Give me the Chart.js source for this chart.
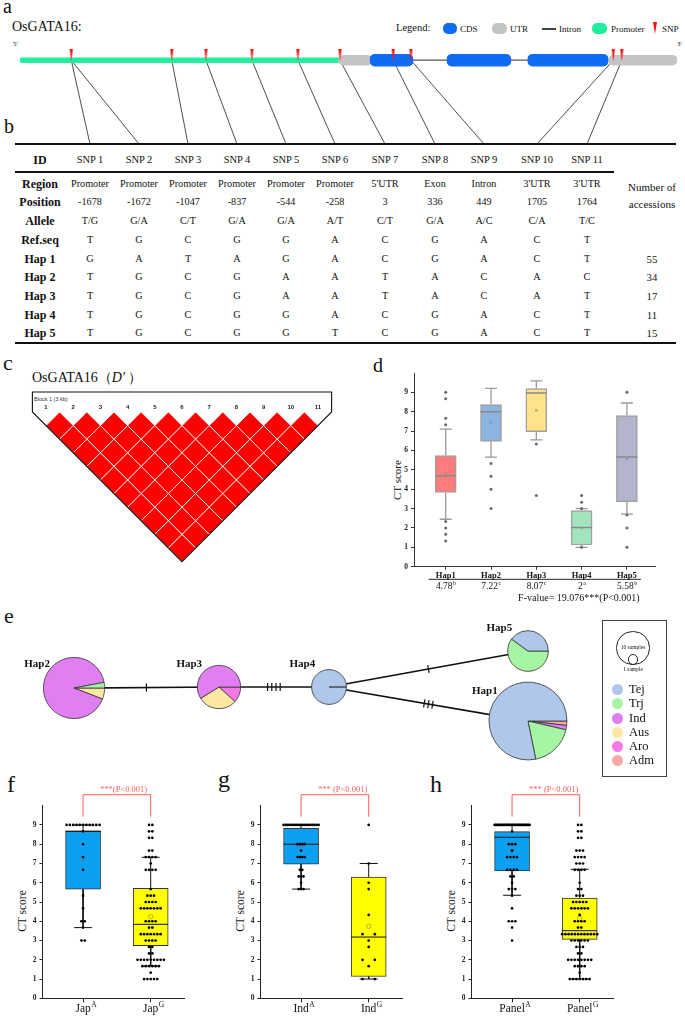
<!DOCTYPE html>
<html>
<head>
<meta charset="utf-8">
<script src="https://cdn.jsdelivr.net/npm/chart.js@4.4.1/dist/chart.umd.min.js"></script>
<style>
html,body{margin:0;padding:0;background:#fff;}
#page{position:relative;width:685px;height:1016px;overflow:hidden;background:#fff;font-family:'Liberation Serif','Times New Roman',serif;color:#111;}
#page div{position:absolute;white-space:nowrap;line-height:1;}
#page canvas{position:absolute;}
.c{transform:translate(-50%,-50%);}
</style>
</head>
<body>
<div id="page"></div>
<script>
// ================= DATA =================
// panel a : gene model (schematic position along the drawn gene, 0-100)
const promoterSpans = [[0, 48.7]];
const utrSpans = [[48.5, 53.6], [89.6, 100]];
const cdsSpans = [[53.3, 59.8], [65.0, 74.7], [77.3, 89.5]];
const intronSpan = [59.8, 77.3];
const snpMarkPos = [7.8, 7.8, 23.1, 28.3, 35.3, 42.3, 48.7, 56.8, 59.5, 90.3, 91.6];

// panel b : SNP table
const snpIds = ['SNP 1','SNP 2','SNP 3','SNP 4','SNP 5','SNP 6','SNP 7','SNP 8','SNP 9','SNP 10','SNP 11'];
const snpRegion = ['Promoter','Promoter','Promoter','Promoter','Promoter','Promoter',"5'UTR",'Exon','Intron',"3'UTR","3'UTR"];
const snpPosition = ['-1678','-1672','-1047','-837','-544','-258','3','336','449','1705','1764'];
const snpAllele = ['T/G','G/A','C/T','G/A','G/A','A/T','C/T','G/A','A/C','C/A','T/C'];
const refSeq = ['T','G','C','G','G','A','C','G','A','C','T'];
const hapRowNames = ['Hap 1','Hap 2','Hap 3','Hap 4','Hap 5'];
const hapAlleles = [
  ['G','A','T','A','G','A','C','G','A','C','T'],
  ['T','G','C','G','A','A','T','A','C','A','C'],
  ['T','G','C','G','A','A','T','A','C','A','T'],
  ['T','G','C','G','G','A','C','G','A','C','T'],
  ['T','G','C','G','G','T','C','G','A','C','T']
];
const hapAccessions = [55, 34, 17, 11, 15];

// panel c : pairwise D' (rows = SNP distance 1..10)
const ldSnpNumbers = [1,2,3,4,5,6,7,8,9,10,11];
const ldDprime = [
  [1,1,1,1,1,1,1,1,1,1],
  [1,1,1,1,1,1,1,1,1],
  [1,1,1,1,1,1,1,1],
  [1,1,1,1,1,1,1],
  [1,1,1,1,1,1],
  [1,1,1,1,1],
  [1,1,1,1],
  [1,1,1],
  [1,1],
  [1]
];

// panel d : CT score by haplotype
const hapLabels = ['Hap1','Hap2','Hap3','Hap4','Hap5'];
const hapQ1 = [3.83, 6.47, 6.97, 1.12, 3.36];
const hapMedian = [4.69, 8.0, 8.97, 2.02, 5.66];
const hapQ3 = [5.74, 8.37, 9.19, 2.9, 7.8];
const hapWhiskerLow = [2.45, 5.66, 6.55, 1.0, 2.71];
const hapWhiskerHigh = [7.1, 9.21, 9.59, 3.0, 8.45];
const hapMean = [4.78, 7.45, 8.07, 2.0, 5.58];
const hapOutliers = [[9, 8.67, 7.67, 7.33, 2.33, 2, 1.67, 1.33], [5.33, 4.67, 4, 3], [6.33, 3.67], [3.67, 3.33, 3, 1], [9, 2.67, 2, 1]];
const hapMeanLabels = ['4.78','7.22','8.07','2','5.58'];
const hapGroupLetters = ['b','c','c','a','b'];
const fValueText = 'F-value= 19.076***(P<0.001)';

// panel e : haplotype network
const hapNodes = ['Hap1','Hap2','Hap3','Hap4','Hap5'];
const nodeX = [88, 12.3, 36.5, 54.8, 88];
const nodeY = [7.8, 13.3, 13.5, 13.5, 19.5];
const groupNames = ['Tej','Trj','Ind','Aus','Aro','Adm'];
const hapGroupCounts = [[43,10,1,0,0,1],[0,1,31,2,0,0],[0,0,10,5,2,0],[11,0,0,0,0,0],[6,9,0,0,0,0]];
const edgeFrom = ['Hap2','Hap3','Hap4','Hap4'];
const edgeTo = ['Hap3','Hap4','Hap5','Hap1'];
const edgeMutations = [1, 4, 1, 3];

// panels f, g, h : CT score by allele
const yTickVals = [0,1,2,3,4,5,6,7,8,9];
const fLabels = ['Jap','Jap'], fSups = ['A','G'];
const fQ1 = [5.67, 2.73], fMedian = [8.67, 3.84], fQ3 = [8.69, 5.71], fLow = [3.67, 1.68], fHigh = [9, 7.32], fMean = [7.22, 4.24];
const japAValues = [9, 8.67, 8, 7.33, 6.67, 5.33, 4.67, 4, 3.67, 3];
const japACounts = [11, 1, 1, 1, 1, 1, 1, 2, 1, 2];
const japGValues = [9, 8.67, 8.33, 7.67, 7.33, 7, 6.67, 5.67, 5.33, 5, 4.67, 4, 3.67, 3.33, 3, 2.67, 2.33, 2, 1.67, 1.33, 1];
const japGCounts = [2, 2, 2, 2, 4, 1, 4, 1, 3, 4, 7, 4, 2, 7, 4, 2, 2, 9, 6, 1, 5];

const gLabels = ['Ind','Ind'], gSups = ['A','G'];
const gQ1 = [6.97, 1.13], gMedian = [8.0, 3.18], gQ3 = [8.83, 6.3], gLow = [5.67, 1.0], gHigh = [9, 7.0], gMean = [7.93, 3.74];
const indAValues = [9, 8, 7.67, 7.33, 6.67, 6.33, 6, 5.67];
const indACounts = [18, 4, 1, 4, 2, 3, 1, 3];
const indGValues = [9, 7, 6, 5.67, 4.33, 3.33, 3, 2.67, 2, 1.67, 1];
const indGCounts = [1, 1, 1, 1, 1, 2, 1, 1, 2, 1, 2];

const hLabels = ['Panel','Panel'], hSups = ['A','G'];
const hQ1 = [6.61, 3.06], hMedian = [8.36, 3.51], hQ3 = [8.65, 5.21], hLow = [5.35, 1.0], hHigh = [9, 6.7], hMean = [7.7, 4.15];
const panelAValues = [9, 8.67, 8, 7.67, 7.33, 6.67, 6.33, 6, 5.67, 5.33, 4.67, 4, 3.67, 3];
const panelACounts = [28, 1, 3, 1, 4, 4, 2, 1, 3, 1, 1, 3, 1, 1];
const panelGValues = [9, 8.67, 8.33, 7.67, 7.33, 7, 6.67, 6, 5.67, 5.33, 5, 4.67, 4.33, 4, 3.67, 3.33, 3, 2.67, 2.33, 2, 1.67, 1.33, 1];
const panelGCounts = [2, 2, 2, 3, 4, 3, 4, 1, 2, 3, 5, 6, 1, 4, 2, 12, 6, 3, 2, 8, 4, 1, 7];

// ================= STYLE / HELPERS =================
const SERIF = "'Liberation Serif','Times New Roman',serif";
Chart.defaults.font.family = SERIF;
Chart.defaults.color = '#222';
Chart.defaults.animation = false;
Chart.defaults.responsive = false;
Chart.defaults.plugins.legend.display = false;
Chart.defaults.plugins.tooltip.enabled = false;
const groupColors = ['#AEC7EA','#A5F5A5','#E07EF2','#FCE6A2','#F57AE6','#F8AAA6'];
const hapBoxColors = ['#FF7C7C','#8DB3E1','#FFE38A','#A2E4BE','#B3B5CF'];

const page = document.getElementById('page');
function el(html, x, y, css, center){
  const d = document.createElement('div');
  d.innerHTML = html; d.style.left = x + 'px'; d.style.top = y + 'px';
  if (center) d.className = 'c';
  if (css) d.style.cssText += ';' + css;
  page.appendChild(d); return d;
}
function letter(ch, x, base, size){ el(ch, x, base - 0.8375 * size, 'font-size:' + size + 'px'); }
function rule(x1, x2, y, w, color){ el('', x1, y - w / 2, 'width:' + (x2 - x1) + 'px;height:' + w + 'px;background:' + (color || '#111')); }
function canvasAt(x, y, w, h){
  const c = document.createElement('canvas');
  c.width = w; c.height = h;
  c.style.left = x + 'px'; c.style.top = y + 'px'; c.style.width = w + 'px'; c.style.height = h + 'px';
  page.appendChild(c); return c;
}
function drawSup(ctx, base, sup, cx, baseline, fs, ss, centerBase){
  ctx.font = fs + 'px ' + SERIF; const wb = ctx.measureText(base).width;
  ctx.font = ss + 'px ' + SERIF; const ws = ctx.measureText(sup).width;
  const x0 = centerBase ? cx - wb / 2 : cx - (wb + ws) / 2;
  ctx.textAlign = 'left';
  ctx.font = fs + 'px ' + SERIF; ctx.fillText(base, x0, baseline);
  ctx.font = ss + 'px ' + SERIF; ctx.fillText(sup, x0 + wb + 0.5, baseline - fs * 0.42);
}
function pieRadius(n){ return 5.25 * Math.sqrt(n); }

// ================= PANEL LETTERS =================
letter('a', 3, 13, 20);
letter('b', 4, 133, 20);
letter('c', 3, 370, 22);
letter('d', 373, 372, 20);
letter('e', 4, 623, 22);
letter('f', 7, 792, 24);
letter('g', 218, 787, 24);
letter('h', 430, 792, 24);

// ================= PANEL A =================
el('OsGATA16:', 12, 20, 'font-size:14px');
el('5\'', 13, 41, 'font-size:7px');
el('3\'', 677, 41, 'font-size:7px');
el('Legend:', 396, 23, 'font-size:10.5px');
const legendCss = 'font-size:9px';
el('', 443, 23, 'width:14px;height:11px;border-radius:5px;background:#0F6CF2');
el('CDS', 460, 24.5, legendCss);
el('', 492, 23, 'width:15px;height:11px;border-radius:5px;background:#C4C4C4');
el('UTR', 510, 24.5, legendCss);
rule(542, 556, 29, 1.3, '#444');
el('Intron', 559, 24.5, legendCss);
el('', 592, 23, 'width:15px;height:11px;border-radius:5px;background:#22EE9C');
el('Promoter', 611, 24.5, legendCss);
el('', 653, 22, 'width:4px;height:12px;background:#FF1010;clip-path:polygon(0 0,100% 0,50% 100%)');
el('SNP', 662, 24.5, legendCss);

const tblColX = [90, 139, 188, 237, 286, 335, 385, 435, 484, 537, 587];
const wedge = document.createElement('canvas'); wedge.width = 5; wedge.height = 12;
{ const g = wedge.getContext('2d'); g.fillStyle = '#FF1010'; g.beginPath(); g.moveTo(0.9, 0); g.lineTo(4.1, 0); g.lineTo(2.5, 12); g.closePath(); g.fill(); }
const snpLinkPlugin = {
  id: 'snpLinks',
  beforeDatasetsDraw(chart){
    const {ctx, scales: {x, y}} = chart;
    ctx.save(); ctx.strokeStyle = '#222'; ctx.lineWidth = 0.8;
    snpMarkPos.forEach((p, i) => {
      ctx.beginPath(); ctx.moveTo(x.getPixelForValue(p), y.getPixelForValue(0));
      ctx.lineTo(tblColX[i], chart.height); ctx.stroke();
    });
    ctx.restore();
  }
};
new Chart(canvasAt(0, 38, 685, 106), {
  type: 'bar',
  data: { datasets: [
    { type: 'scatter', data: [...new Set(snpMarkPos)].map(x => ({x, y: 5.5})), pointStyle: wedge, order: 0 },
    { type: 'bar', data: cdsSpans.map(s => ({x: s, y: 0})), backgroundColor: '#0F6CF2', barThickness: 12, borderRadius: 5, borderSkipped: false, grouped: false, order: 1 },
    { type: 'bar', data: utrSpans.map(s => ({x: s, y: 0})), backgroundColor: '#C4C4C4', barThickness: 10, borderRadius: 5, borderSkipped: false, grouped: false, order: 2 },
    { type: 'bar', data: promoterSpans.map(s => ({x: s, y: 0})), backgroundColor: '#22EE9C', barThickness: 5, borderRadius: 2.5, borderSkipped: false, grouped: false, order: 3 },
    { type: 'line', data: [{x: intronSpan[0], y: 0}, {x: intronSpan[1], y: 0}], borderColor: '#555', borderWidth: 1.3, pointRadius: 0, order: 4 }
  ]},
  options: {
    indexAxis: 'y',
    layout: { padding: {left: 20, right: 8, top: 0, bottom: 0} },
    scales: {
      x: { type: 'linear', min: 0, max: 100, display: false, offset: false },
      y: { type: 'linear', min: -87, max: 19, display: false, offset: false }
    }
  },
  plugins: [snpLinkPlugin]
});

// ================= PANEL B (table) =================
const rowYs = [160, 183.5, 202, 220.5, 239.5, 258.5, 277, 296, 314.5, 333];
const rowLabels = ['ID','Region','Position','Allele','Ref.seq'].concat(hapRowNames);
const rowData = [snpIds, snpRegion, snpPosition, snpAllele, refSeq].concat(hapAlleles);
rowLabels.forEach((lab, r) => {
  el(lab, 40, rowYs[r], 'font-size:12px;font-weight:bold', true);
  rowData[r].forEach((t, c) => el(t, tblColX[c], rowYs[r], 'font-size:' + (r === 0 ? 10.5 : 10.2) + 'px', true));
});
hapAccessions.forEach((n, k) => el(String(n), 652, rowYs[5 + k], 'font-size:10.8px', true));
el('Number of', 652, 186.5, 'font-size:11px', true);
el('accessions', 652, 204, 'font-size:11px', true);
rule(15, 676, 144, 1.8);
rule(15, 614, 172, 1.2);
rule(15, 676, 343, 1.5);

// ================= PANEL C (LD) =================
el('OsGATA16（<i>D′</i> ）', 32, 371, 'font-size:14px');
el('Block 1 (3 kb)', 34, 396.5, "font-size:5.5px;font-family:'Liberation Sans',sans-serif;color:#333");
const ldPoints = [];
ldDprime.forEach((row, r) => row.forEach((v, k) => {
  const i = ldSnpNumbers[k], j = ldSnpNumbers[k + r + 1];
  ldPoints.push({x: (i + j) / 2, y: j - i, v});
}));
const ldOutline = {
  id: 'ldOutline',
  afterDatasetsDraw(chart){
    const {ctx, scales: {x, y}} = chart; const n = ldSnpNumbers.length;
    const L = x.getPixelForValue(0.5), R = x.getPixelForValue(n + 0.5);
    const Y0 = y.getPixelForValue(0), T = Y0 - 20;
    ctx.save(); ctx.strokeStyle = '#111'; ctx.lineWidth = 1.1; ctx.beginPath();
    ctx.moveTo(L, T); ctx.lineTo(R, T); ctx.lineTo(R, Y0);
    ctx.lineTo(x.getPixelForValue((n + 1) / 2), y.getPixelForValue(n));
    ctx.lineTo(L, Y0); ctx.closePath(); ctx.stroke(); ctx.restore();
  }
};
new Chart(canvasAt(25, 385, 315, 182), {
  type: 'scatter',
  data: { datasets: [{
    data: ldPoints, pointStyle: 'rectRot',
    pointRadius: ctx => { const s = ctx.chart.scales.x; return (s.getPixelForValue(2) - s.getPixelForValue(1)) / 2; },
    backgroundColor: ctx => (ctx.raw && ctx.raw.v >= 0.99) ? '#FF0000' : '#FFB0B0',
    borderColor: '#fff', borderWidth: 0.8
  }]},
  options: {
    layout: { padding: {left: 7.4, right: 8.4, top: 0, bottom: 5.4} },
    scales: {
      x: { type: 'linear', position: 'top', min: 0.5, max: 11.5,
           afterBuildTicks: s => { s.ticks = ldSnpNumbers.map(v => ({value: v})); },
           afterFit: s => { s.height = 27; },
           grid: {display: false, drawTicks: false}, border: {display: false},
           ticks: { font: {family: "'Liberation Sans',sans-serif", size: 6, weight: 'bold'}, color: '#222', padding: 1.5, maxRotation: 0 } },
      y: { type: 'linear', min: 0, max: 11, reverse: true, display: false }
    }
  },
  plugins: [ldOutline]
});

// ================= BOX HELPERS =================
function whiskerSegs(centers, q1, q3, lo, hi, capHalf){
  const d = [];
  centers.forEach((c, i) => {
    d.push({x: c, y: q3[i]}, {x: c, y: hi[i]}, {x: c, y: null},
           {x: c - capHalf, y: hi[i]}, {x: c + capHalf, y: hi[i]}, {x: c, y: null},
           {x: c, y: q1[i]}, {x: c, y: lo[i]}, {x: c, y: null},
           {x: c - capHalf, y: lo[i]}, {x: c + capHalf, y: lo[i]}, {x: c, y: null});
  });
  return d;
}
function medianSegs(centers, med, half){
  const d = [];
  centers.forEach((c, i) => { d.push({x: c - half, y: med[i]}, {x: c + half, y: med[i]}, {x: c, y: null}); });
  return d;
}

// ================= PANEL D =================
el('CT score', 397, 480, 'font-size:11px;transform:translate(-50%,-50%) rotate(-90deg)');
{
  const centers = hapLabels.map((_, i) => i + 1);
  const pxU = 241 / (5.62 - 0.3);
  const outPts = [];
  hapOutliers.forEach((arr, i) => arr.forEach(v => outPts.push({x: centers[i], y: v})));
  const dAnnot = {
    id: 'dAnnot',
    afterDraw(chart){
      const {ctx, scales: {x}, chartArea} = chart;
      const yLine = chartArea.bottom + 12.6;
      ctx.save(); ctx.strokeStyle = '#222'; ctx.lineWidth = 1;
      ctx.beginPath(); ctx.moveTo(x.getPixelForValue(1) - 17, yLine); ctx.lineTo(x.getPixelForValue(5) + 14, yLine); ctx.stroke();
      ctx.fillStyle = '#111';
      hapMeanLabels.forEach((t, i) => drawSup(ctx, t, hapGroupLetters[i], x.getPixelForValue(centers[i]), yLine + 10, 9.5, 6, false));
      ctx.font = '10px ' + SERIF; ctx.textAlign = 'center';
      ctx.fillText(fValueText, x.getPixelForValue(3.94), yLine + 21.2);
      ctx.restore();
    }
  };
  new Chart(canvasAt(385, 365, 280, 240), {
    type: 'bar',
    data: { datasets: [
      { type: 'scatter', data: outPts, pointRadius: 1.5, backgroundColor: '#6a6a6a', borderWidth: 0, order: 0 },
      { type: 'scatter', data: centers.map((c, i) => ({x: c, y: hapMean[i]})), pointStyle: 'rect', pointRadius: 1.8, backgroundColor: 'rgba(140,140,140,0.6)', borderWidth: 0, order: 1 },
      { type: 'line', data: medianSegs(centers, hapMedian, 10.5 / pxU), borderColor: '#8a8a8a', borderWidth: 1.5, pointRadius: 0, order: 2 },
      { type: 'bar', data: centers.map((c, i) => ({x: c, y: [hapQ1[i], hapQ3[i]]})), backgroundColor: hapBoxColors, borderColor: '#a0a0a0', borderWidth: 1.5, borderSkipped: false, barThickness: 21, grouped: false, order: 3 },
      { type: 'line', data: whiskerSegs(centers, hapQ1, hapQ3, hapWhiskerLow, hapWhiskerHigh, 6 / pxU), borderColor: '#9a9a9a', borderWidth: 1.3, pointRadius: 0, order: 4 }
    ]},
    options: {
      layout: { padding: {left: 0, top: 8, right: 10, bottom: 0} },
      scales: {
        x: { type: 'linear', min: 0.3, max: 5.62, offset: false,
             afterBuildTicks: s => { s.ticks = centers.map(v => ({value: v})); },
             afterFit: s => { s.height = 38.3; },
             ticks: { callback: v => hapLabels[v - 1], font: {size: 8.5, weight: 'bold'}, color: '#111', padding: 1, maxRotation: 0 },
             grid: { display: true, drawOnChartArea: false, tickLength: 3, color: '#333', offset: false },
             border: { color: '#333', width: 1 } },
        y: { type: 'linear', min: 0, max: 10,
             afterBuildTicks: s => { s.ticks = yTickVals.map(v => ({value: v})); },
             afterFit: s => { s.width = 29; },
             ticks: { font: {size: 7.5, weight: 'bold'}, color: '#222', padding: 3 },
             grid: { display: true, drawOnChartArea: false, tickLength: 3, color: '#333' },
             border: { color: '#333', width: 1 } }
      }
    },
    plugins: [dAnnot]
  });
}

// ================= PANEL E (network) =================
{
  const nodeIdx = name => hapNodes.indexOf(name);
  const nodeSize = i => hapGroupCounts[i].reduce((a, b) => a + b, 0);
  const netPlugin = {
    id: 'netTicks',
    afterDatasetsDraw(chart){
      const {ctx, scales: {x, y}} = chart;
      ctx.save(); ctx.strokeStyle = '#111'; ctx.lineWidth = 1.2;
      edgeFrom.forEach((f, k) => {
        const a = nodeIdx(f), b = nodeIdx(edgeTo[k]);
        const ax = x.getPixelForValue(nodeX[a]), ay = y.getPixelForValue(nodeY[a]);
        const bx = x.getPixelForValue(nodeX[b]), by = y.getPixelForValue(nodeY[b]);
        const mx = (ax + bx) / 2, my = (ay + by) / 2, len = Math.hypot(bx - ax, by - ay);
        const ux = (bx - ax) / len, uy = (by - ay) / len, m = edgeMutations[k];
        for (let t = 0; t < m; t++) {
          const off = (t - (m - 1) / 2) * 4.2, cx = mx + ux * off, cy = my + uy * off;
          ctx.beginPath(); ctx.moveTo(cx - uy * 4, cy + ux * 4); ctx.lineTo(cx + uy * 4, cy - ux * 4); ctx.stroke();
        }
      });
      ctx.fillStyle = '#111'; ctx.font = 'bold 11px ' + SERIF; ctx.textAlign = 'right';
      hapNodes.forEach((h, i) => {
        const r = pieRadius(nodeSize(i));
        ctx.fillText(h, x.getPixelForValue(nodeX[i]) - 0.78 * r, y.getPixelForValue(nodeY[i]) - Math.max(20, 0.7 * r));
      });
      ctx.restore();
    }
  };
  const netLeft = 0, netTop = 618;
  const net = new Chart(canvasAt(netLeft, netTop, 600, 150), {
    type: 'line',
    data: { datasets: edgeFrom.map((f, k) => ({
      data: [{x: nodeX[nodeIdx(f)], y: nodeY[nodeIdx(f)]}, {x: nodeX[nodeIdx(edgeTo[k])], y: nodeY[nodeIdx(edgeTo[k])]}],
      borderColor: '#111', borderWidth: 1.7, pointRadius: 0
    }))},
    options: {
      layout: { padding: 0 },
      scales: { x: {type: 'linear', min: 0, max: 100, display: false}, y: {type: 'linear', min: 0, max: 25, display: false} }
    },
    plugins: [netPlugin]
  });
  hapNodes.forEach((h, i) => {
    const r = pieRadius(nodeSize(i));
    const S = 2 * Math.ceil(r) + 6;
    const px = netLeft + net.scales.x.getPixelForValue(nodeX[i]);
    const py = netTop + net.scales.y.getPixelForValue(nodeY[i]);
    new Chart(canvasAt(px - S / 2, py - S / 2, S, S), {
      type: 'pie',
      data: { labels: groupNames.slice().reverse(), datasets: [{
        data: hapGroupCounts[i].slice().reverse(), backgroundColor: groupColors.slice().reverse(),
        borderColor: '#333', borderWidth: 0.8
      }]},
      options: { rotation: 90, radius: r, layout: {padding: 0} }
    });
  });
  // legend
  el('', 602, 620, 'width:65px;height:157px;border:1px solid #444;box-sizing:border-box');
  const rBig = pieRadius(10), rSmall = pieRadius(1), lcx = 633, lbot = 664.6;
  el('', lcx - rBig, lbot - 2 * rBig, 'width:' + (2 * rBig) + 'px;height:' + (2 * rBig) + 'px;border:1px solid #222;border-radius:50%;box-sizing:border-box');
  el('', lcx - rSmall, lbot - 2 * rSmall, 'width:' + (2 * rSmall) + 'px;height:' + (2 * rSmall) + 'px;border:1px solid #222;border-radius:50%;box-sizing:border-box');
  el('10 samples', lcx, 648, 'font-size:5.5px;background:transparent', true);
  el('1 sample', lcx, 670, 'font-size:5.5px', true);
  const legY = [689, 703, 718, 732, 746, 760];
  groupNames.forEach((g, k) => {
    el('', 611.5, legY[k] - 5.5, 'width:11px;height:11px;border-radius:50%;background:' + groupColors[k]);
    el(g, 629, legY[k] - 6.5, 'font-size:12.5px');
  });
}

// ================= PANELS F, G, H =================
function boxPanel(left, cats, sups, q1, med, q3, lo, hi, mean, obsValues, obsCounts, spreads, sigText){
  const top = 775, W = 200, H = 241;
  const centers = cats.map((_, i) => i + 1);
  const pxU = 142 / 2.1;
  const pts = [];
  obsValues.forEach((vals, g) => vals.forEach((v, k) => {
    const n = obsCounts[g][k];
    const s = n > 1 ? Math.min(spreads[g], 35 / (n - 1)) : 0;
    for (let t = 0; t < n; t++) pts.push({x: centers[g] + (t - (n - 1) / 2) * s / pxU, y: v});
  }));
  el('CT score', left + 23, 911, 'font-size:11.5px;transform:translate(-50%,-50%) rotate(-90deg)');
  const annot = {
    id: 'boxAnnot',
    afterDraw(chart){
      const {ctx, scales: {x, y}, chartArea} = chart;
      ctx.save(); ctx.fillStyle = '#111';
      cats.forEach((c, i) => drawSup(ctx, c, sups[i], x.getPixelForValue(centers[i]), chartArea.bottom + 14, 11.5, 7.5, true));
      const x1 = x.getPixelForValue(1), x2 = x.getPixelForValue(2), yb = y.getPixelForValue(9.43), yt = y.getPixelForValue(10.57);
      ctx.strokeStyle = '#FF5C5C'; ctx.lineWidth = 1;
      ctx.beginPath(); ctx.moveTo(x1, yb); ctx.lineTo(x1, yt); ctx.lineTo(x2, yt); ctx.lineTo(x2, yb); ctx.stroke();
      ctx.fillStyle = '#FF5C5C'; ctx.font = '8.5px ' + SERIF; ctx.textAlign = 'left';
      ctx.fillText(sigText, x1 + 17, yt - 3);
      ctx.restore();
    }
  };
  new Chart(canvasAt(left, top, W, H), {
    type: 'bar',
    data: { datasets: [
      { type: 'scatter', data: pts, pointRadius: 1.35, backgroundColor: '#000', borderWidth: 0, order: 0 },
      { type: 'scatter', data: centers.map((c, i) => ({x: c, y: mean[i]})), pointRadius: 2.2, backgroundColor: 'rgba(0,0,0,0)', borderColor: 'rgba(110,110,110,0.6)', borderWidth: 0.8, order: 1 },
      { type: 'line', data: medianSegs(centers, med, 17.5 / pxU), borderColor: '#111', borderWidth: 1, pointRadius: 0, order: 2 },
      { type: 'bar', data: centers.map((c, i) => ({x: c, y: [q1[i], q3[i]]})), backgroundColor: ['#0CA0F2', '#FFFF00'], borderColor: '#333', borderWidth: 1, borderSkipped: false, barThickness: 35, grouped: false, order: 3 },
      { type: 'line', data: whiskerSegs(centers, q1, q3, lo, hi, 9 / pxU), borderColor: '#111', borderWidth: 1, pointRadius: 0, order: 4 }
    ]},
    options: {
      layout: { padding: {left: 0, top: 30.7, right: 15.5, bottom: 0} },
      scales: {
        x: { type: 'linear', min: 0.4, max: 2.5, offset: false,
             afterBuildTicks: s => { s.ticks = centers.map(v => ({value: v})); },
             afterFit: s => { s.height = 17.7; },
             ticks: { display: false },
             grid: { display: true, drawOnChartArea: false, tickLength: 4, color: '#222', offset: false },
             border: { color: '#222', width: 1 } },
        y: { type: 'linear', min: 0, max: 10,
             afterBuildTicks: s => { s.ticks = yTickVals.map(v => ({value: v})); },
             afterFit: s => { s.width = 42.5; },
             ticks: { font: {size: 7.5, weight: 'bold'}, color: '#222', padding: 3 },
             grid: { display: true, drawOnChartArea: false, tickLength: 3, color: '#222' },
             border: { color: '#222', width: 1 } }
      }
    },
    plugins: [annot]
  });
}
boxPanel(0, fLabels, fSups, fQ1, fMedian, fQ3, fLow, fHigh, fMean, [japAValues, japGValues], [japACounts, japGCounts], [3.3, 3.3], '***(P<0.001)');
boxPanel(218, gLabels, gSups, gQ1, gMedian, gQ3, gLow, gHigh, gMean, [indAValues, indGValues], [indACounts, indGCounts], [2.4, 12.3], '*** (P<0.001)');
boxPanel(429, hLabels, hSups, hQ1, hMedian, hQ3, hLow, hHigh, hMean, [panelAValues, panelGValues], [panelACounts, panelGCounts], [3.3, 3.3], '*** (P<0.001)');
</script>
</body>
</html>
